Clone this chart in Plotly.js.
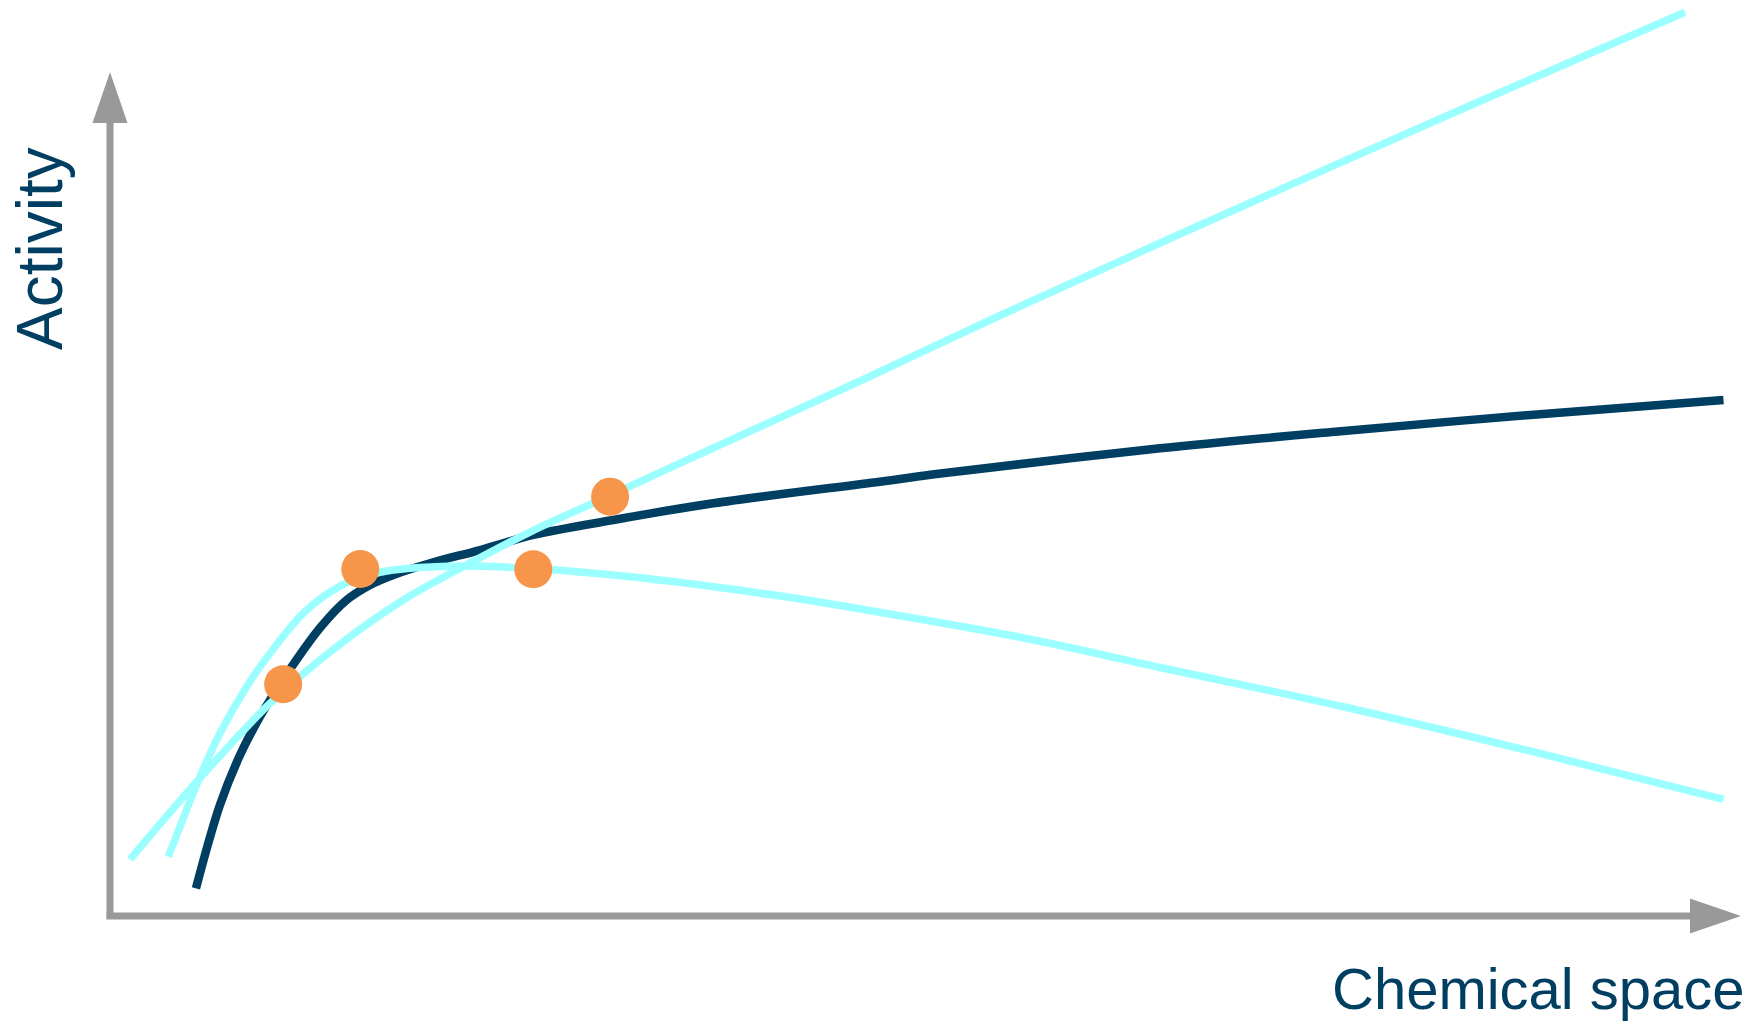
<!DOCTYPE html>
<html>
<head>
<meta charset="utf-8">
<script src="https://cdn.plot.ly/plotly-3.0.1.min.js"></script>
<style>html,body{margin:0;padding:0;background:#fff;}#chart{width:1752px;height:1021px;}</style>
</head>
<body>
<div id="chart"></div>
<script>
// ---- Data (arbitrary units: each axis runs 0..10) ----
const modelX = [0.544, 0.696, 0.823, 0.949, 1.013, 1.150, 1.335, 1.498, 1.646, 1.793, 2.025, 2.342, 2.679, 3.185, 3.818, 4.873, 5.270, 6.646, 7.754, 8.989, 10.212];
const modelY = [0.349, 1.400, 2.030, 2.513, 2.724, 3.144, 3.648, 3.985, 4.174, 4.300, 4.448, 4.615, 4.805, 4.994, 5.204, 5.477, 5.583, 5.898, 6.107, 6.318, 6.507];

const fitUpX = [0.127, 0.570, 1.013, 1.435, 1.856, 2.236, 2.658, 3.165, 3.650, 4.761, 5.639, 6.772, 8.616, 9.968];
const fitUpY = [0.715, 1.740, 2.682, 3.396, 3.985, 4.405, 4.842, 5.303, 5.750, 6.759, 7.579, 8.600, 10.227, 11.396];

const fitDownX = [0.369, 0.570, 0.696, 0.865, 1.013, 1.223, 1.413, 1.582, 1.751, 1.962, 2.236, 2.679, 3.397, 4.241, 4.785, 5.753, 6.646, 7.785, 8.987, 10.212];
const fitDownY = [0.748, 1.757, 2.304, 2.892, 3.313, 3.817, 4.111, 4.269, 4.351, 4.395, 4.414, 4.382, 4.256, 4.035, 3.859, 3.518, 3.134, 2.648, 2.081, 1.472];

const obsX = [1.096, 1.584, 2.679, 3.165];
const obsY = [2.922, 4.376, 4.372, 5.288];

const xTitle = "Chemical space";
const yTitle = "Activity";

// ---- Styles / geometry ----
const W = 1752, H = 1021;
const X0PX = 110, Y0PX = 916;      // pixel position of axis origin
const XUNIT = 158, YUNIT = 79.3;   // pixels per data unit
const NAVY = "#003F62", CYAN = "#9BFFFF", ORANGE = "#F7964A", GRAY = "#999999";
const AXW = 7;
const AXIS_END = 10;
const ARROW_LEN = 51, ARROW_HALF = 17.5;

const xr = [-X0PX / XUNIT, (W - X0PX) / XUNIT];
const yr = [-(H - Y0PX) / YUNIT, Y0PX / YUNIT];
const dx = p => p / XUNIT, dy = p => p / YUNIT;

const traces = [
  {x: modelX, y: modelY, mode: "lines", line: {color: NAVY, width: 8.5, shape: "spline", smoothing: 1}, hoverinfo: "skip"},
  {x: fitUpX, y: fitUpY, mode: "lines", line: {color: CYAN, width: 7.5, shape: "spline", smoothing: 1}, hoverinfo: "skip"},
  {x: fitDownX, y: fitDownY, mode: "lines", line: {color: CYAN, width: 7.5, shape: "spline", smoothing: 1}, hoverinfo: "skip"},
  {x: obsX, y: obsY, mode: "markers", marker: {color: ORANGE, size: 38, line: {width: 0}}, hoverinfo: "skip", cliponaxis: false}
];

const yArrow = `M ${-dx(ARROW_HALF)},${AXIS_END} L ${dx(ARROW_HALF)},${AXIS_END} L 0,${AXIS_END + dy(ARROW_LEN)} Z`;
const xArrow = `M ${AXIS_END},${-dy(ARROW_HALF)} L ${AXIS_END},${dy(ARROW_HALF)} L ${AXIS_END + dx(ARROW_LEN)},0 Z`;

const shapes = [
  {type: "line", xref: "x", yref: "y", x0: 0, y0: -dy(3), x1: 0, y1: AXIS_END, line: {color: GRAY, width: AXW}},
  {type: "line", xref: "x", yref: "y", x0: -dx(3.5), y0: 0, x1: AXIS_END, y1: 0, line: {color: GRAY, width: AXW}},
  {type: "path", xref: "x", yref: "y", path: yArrow, fillcolor: GRAY, line: {width: 0}},
  {type: "path", xref: "x", yref: "y", path: xArrow, fillcolor: GRAY, line: {width: 0}}
];

const annotations = [
  {xref: "paper", yref: "paper", x: 40 / W, y: 1 - 249 / H, text: yTitle, showarrow: false, textangle: -90,
   xanchor: "center", yanchor: "middle", font: {family: "Liberation Sans, Arial, sans-serif", size: 64, color: NAVY}},
  {xref: "paper", yref: "paper", x: 1747 / W, y: 1 - 988 / H, text: xTitle, showarrow: false,
   xanchor: "right", yanchor: "middle", font: {family: "Liberation Sans, Arial, sans-serif", size: 58, color: NAVY}}
];

const layout = {
  width: W, height: H,
  margin: {l: 0, r: 0, t: 0, b: 0, pad: 0},
  paper_bgcolor: "#ffffff", plot_bgcolor: "#ffffff",
  showlegend: false,
  xaxis: {range: xr, visible: false, fixedrange: true},
  yaxis: {range: yr, visible: false, fixedrange: true},
  shapes: shapes,
  annotations: annotations
};

Plotly.newPlot("chart", traces, layout, {displayModeBar: false, staticPlot: true});
</script>
</body>
</html>
